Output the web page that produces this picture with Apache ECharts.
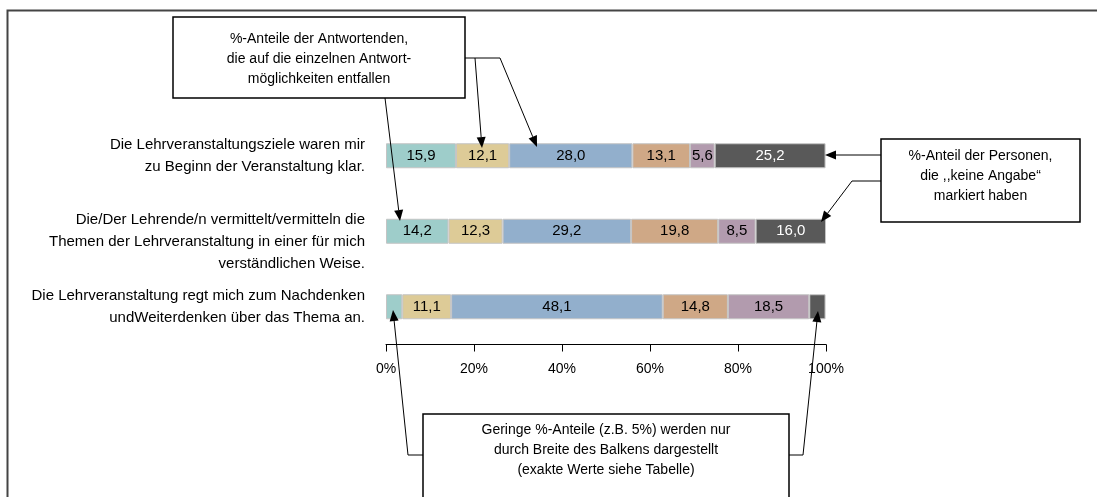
<!DOCTYPE html>
<html>
<head>
<meta charset="utf-8">
<title>Lehrevaluation</title>
<script src="https://cdn.jsdelivr.net/npm/echarts@6/dist/echarts.min.js"></script>
<style>
  html, body { margin: 0; padding: 0; background: #fff; }
</style>
</head>
<body>
<div id="main" style="width:1097px;height:497px"></div>
<script type="text/javascript">
// Fragen (Kategorien)
var fragen = [
  'Die Lehrveranstaltungsziele waren mir\nzu Beginn der Veranstaltung klar.',
  'Die/Der Lehrende/n vermittelt/vermitteln die\nThemen der Lehrveranstaltung in einer für mich\nverständlichen Weise.',
  'Die Lehrveranstaltung regt mich zum Nachdenken\nundWeiterdenken über das Thema an.'
];

// %-Anteile je Antwortmöglichkeit
var antwort1 = [15.9, 14.2, 3.7];
var antwort2 = [12.1, 12.3, 11.1];
var antwort3 = [28.0, 29.2, 48.1];
var antwort4 = [13.1, 19.8, 14.8];
var antwort5 = [5.6, 8.5, 18.5];
var keineAngabe = [25.2, 16.0, 3.7];

var xTicks = [0, 20, 40, 60, 80, 100];

var farben = ['#9ecdca', '#ddcb97', '#92afcc', '#cfa886', '#b29bae', '#595959'];
var schrift = "'Liberation Sans Narrow', 'Liberation Sans', Arial, sans-serif";

var myChart = echarts.init(document.getElementById('main'));

function balken(name, werte, farbe, textfarbe) {
  return {
    name: name,
    type: 'bar',
    stack: 'gesamt',
    barWidth: 25,
    data: werte,
    itemStyle: { color: farbe, borderColor: '#c4c4c4', borderWidth: 1 },
    label: {
      show: true,
      position: 'inside',
      color: textfarbe,
      fontFamily: schrift,
      fontSize: 15,
      formatter: function (p) {
        // kleine Anteile nur als Balkenbreite
        return p.value < 5 ? '' : p.value.toFixed(1).replace('.', ',');
      }
    }
  };
}

// Pfeil: Linienzug mit Spitze am letzten Punkt
function pfeil(punkte) {
  var n = punkte.length;
  var a = punkte[n - 2], b = punkte[n - 1];
  var dx = b[0] - a[0], dy = b[1] - a[1];
  var len = Math.sqrt(dx * dx + dy * dy);
  var ux = dx / len, uy = dy / len;
  var l = 11, w = 4.5;
  var bx = b[0] - ux * l, by = b[1] - uy * l;
  var ende = punkte.slice(0, n - 1).concat([[bx, by]]);
  return [{
    type: 'polyline',
    shape: { points: ende },
    style: { stroke: '#000', lineWidth: 1, fill: null },
    z: 100
  }, {
    type: 'polygon',
    shape: { points: [b, [bx - uy * w, by + ux * w], [bx + uy * w, by - ux * w]] },
    style: { fill: '#000' },
    z: 100
  }];
}

function linie(punkte) {
  return {
    type: 'polyline',
    shape: { points: punkte },
    style: { stroke: '#000', lineWidth: 1, fill: null },
    z: 100
  };
}

function kasten(x, y, w, h, text, textY) {
  return [{
    type: 'rect',
    shape: { x: x, y: y, width: w, height: h },
    style: { fill: '#fff', stroke: '#000', lineWidth: 1.5 },
    z: 110
  }, {
    type: 'text',
    x: x + w / 2,
    y: textY,
    style: {
      text: text,
      align: 'center',
      verticalAlign: 'middle',
      fontFamily: schrift,
      fontSize: 14,
      lineHeight: 20,
      fill: '#000'
    },
    z: 111
  }];
}

var grafik = [{
  type: 'polyline',
  shape: { points: [[1100, 10.5], [7.5, 10.5], [7.5, 500]] },
  style: { stroke: '#444', lineWidth: 2, fill: null },
  z: 90
}];

// oberer Kasten
grafik = grafik.concat(linie([[465, 58], [500, 58]]));
grafik = grafik.concat(pfeil([[385, 98], [400, 221]]));
grafik = grafik.concat(pfeil([[475, 58], [482, 148]]));
grafik = grafik.concat(pfeil([[500, 58], [537, 147]]));
grafik = grafik.concat(kasten(173, 17, 292, 81,
  '%-Anteile der Antwortenden,\ndie auf die einzelnen Antwort-\nmöglichkeiten entfallen', 59));

// rechter Kasten
grafik = grafik.concat(pfeil([[881, 155], [825, 155]]));
grafik = grafik.concat(pfeil([[881, 181], [852, 181], [821, 222]]));
grafik = grafik.concat(kasten(881, 139, 199, 83,
  '%-Anteil der Personen,\ndie ,,keine Angabe“\nmarkiert haben', 176));

// unterer Kasten
grafik = grafik.concat(pfeil([[423, 455], [408, 455], [393, 310]]));
grafik = grafik.concat(pfeil([[789, 455], [803, 455], [818, 311]]));
grafik = grafik.concat(kasten(423, 414, 366, 100,
  'Geringe %-Anteile (z.B. 5%) werden nur\ndurch Breite des Balkens dargestellt\n(exakte Werte siehe Tabelle)', 450));

var option = {
  backgroundColor: '#fff',
  animation: false,
  grid: { left: 386, width: 440, top: 118, height: 226.5 },
  xAxis: {
    type: 'value',
    min: xTicks[0],
    max: xTicks[xTicks.length - 1],
    interval: xTicks[1] - xTicks[0],
    axisLine: { show: true, lineStyle: { color: '#000', width: 1 } },
    axisTick: { show: true, length: 7, lineStyle: { color: '#000' } },
    splitLine: { show: false },
    axisLabel: {
      margin: 18,
      color: '#000',
      fontFamily: schrift,
      fontSize: 14,
      formatter: '{value}%'
    }
  },
  yAxis: {
    type: 'category',
    inverse: true,
    data: fragen,
    axisLine: { show: false },
    axisTick: { show: false },
    axisLabel: {
      margin: 21,
      color: '#000',
      fontFamily: schrift,
      fontSize: 15,
      lineHeight: 22,
      align: 'right',
      formatter: function (wert, i) {
        // mittlere Frage sitzt etwas tiefer
        return i === 1 ? '\n' + wert : wert;
      }
    }
  },
  series: [
    balken('Antwort 1', antwort1, farben[0], '#000'),
    balken('Antwort 2', antwort2, farben[1], '#000'),
    balken('Antwort 3', antwort3, farben[2], '#000'),
    balken('Antwort 4', antwort4, farben[3], '#000'),
    balken('Antwort 5', antwort5, farben[4], '#000'),
    balken('keine Angabe', keineAngabe, farben[5], '#fff')
  ],
  graphic: { elements: grafik }
};

myChart.setOption(option);
</script>
</body>
</html>
